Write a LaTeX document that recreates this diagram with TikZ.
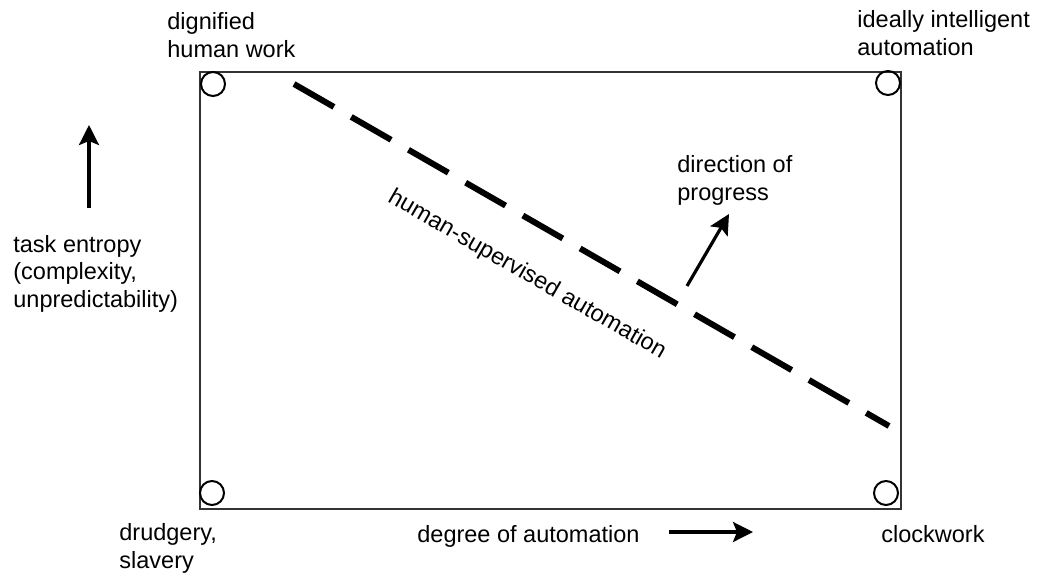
\documentclass[tikz,border=0pt]{standalone}
\usepackage{fontspec}
\setmainfont{Liberation Sans}
\usetikzlibrary{arrows.meta,positioning}

\begin{document}
\begin{tikzpicture}[
    x=0.5pt, y=-0.5pt,
    lbl/.style={inner sep=0pt, align=left, anchor=base west, font=\fontsize{11.75}{13.75}\selectfont},
    corner/.style={circle, draw, line width=1pt, minimum size=12pt, inner sep=0pt},
    arr/.style={-{Stealth[length=10pt,width=10pt,inset=2pt]}, line width=1.6pt}
]
    \useasboundingbox (0,0) rectangle (1037,578);

    % frame and corners
    \draw[line width=1pt, black!80] (200,72) rectangle (901,509);
    \node[corner] (tl) at (213,84) {};
    \node[corner] (tr) at (888,83) {};
    \node[corner] (bl) at (212,493) {};
    \node[corner] (br) at (886,493) {};

    % labels (base = last line)
    \node[lbl] (dhw) at (167,57) {dignified\\human work};
    \node[lbl] (iia) at (857,55) {ideally intelligent\\automation};
    \node[lbl] (drud) at (119,568) {drudgery,\\slavery};
    \node[lbl] (clk) at (881,542) {clockwork};
    \node[lbl] (deg) at (417,542) {degree of automation};
    \node[lbl] (ent) at (13,307) {task entropy\\(complexity,\\unpredictability)};
    \node[lbl] (prog) at (677,200) {direction of\\progress};

    % the supervised automation line
    \coordinate (hs1) at (294,84);
    \coordinate (hs2) at (889,426);
    \draw[line width=3pt, dash pattern=on 23pt off 10pt] (hs1) -- (hs2);
    \node[lbl, anchor=center, rotate=-29.9] (hsa) at (527,275) {human-supervised automation};

    % arrows
    \coordinate (ent0) at (89,208);
    \coordinate (ent1) at (89,125);
    \draw[arr] (ent0) -- (ent1);
    \coordinate (deg0) at (669,532);
    \coordinate (deg1) at (753,532);
    \draw[arr] (deg0) -- (deg1);
    \coordinate (prog0) at (687,286);
    \coordinate (prog1) at (729,214);
    \draw[arr] (prog0) -- (prog1);
\end{tikzpicture}
\end{document}
